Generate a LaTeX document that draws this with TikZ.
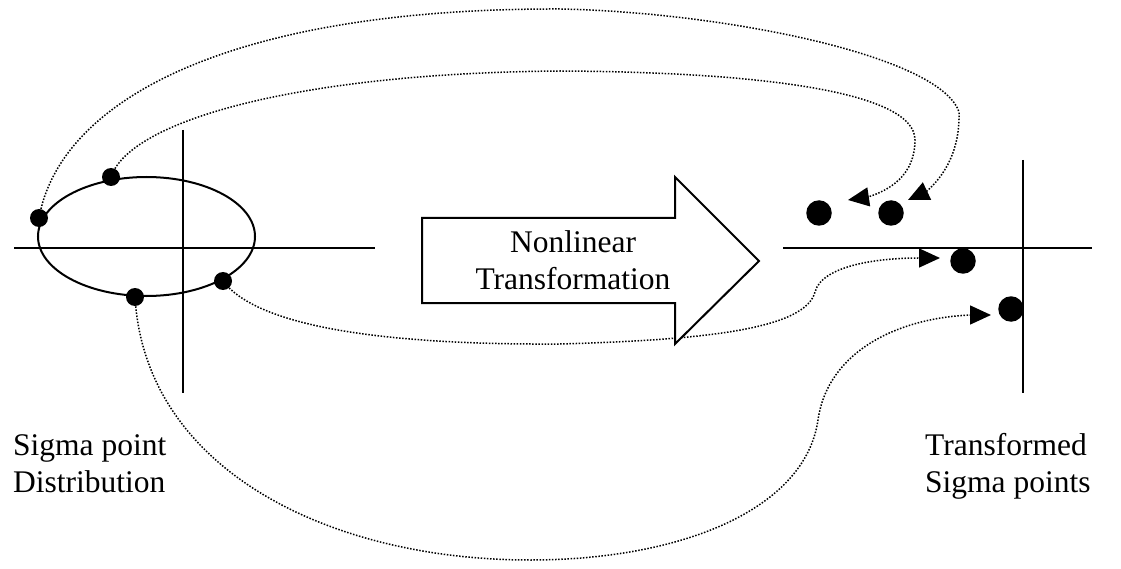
\documentclass[tikz,border=0pt]{standalone}
\usepackage{fontspec}
\setmainfont{Liberation Serif}
\usetikzlibrary{arrows.meta}
\tikzset{
  axis/.style={line width=2pt},
  ldot/.style={circle,fill=black,inner sep=0pt,minimum size=18pt},
  rdot/.style={circle,fill=black,inner sep=0pt,minimum size=25.5pt},
  conn/.style={line width=1.5pt,dash pattern=on 1.5pt off 1.6pt,
    -{Triangle[length=21pt,width=19pt]}},
  lbl/.style={font=\fontsize{31.5}{37}\selectfont,inner sep=0pt,align=left}
}
\begin{document}
\begin{tikzpicture}[x=1pt,y=-1pt]
\useasboundingbox (0,0) rectangle (1121,569);
% left axes and ellipse
\draw[axis] (14,248) -- (375,248);
\draw[axis] (183,130) -- (183,393);
\draw[axis] (146.5,236.5) ellipse [x radius=108.5, y radius=59.5];
% right axes
\draw[axis] (783,248) -- (1092,248);
\draw[axis] (1023,160) -- (1023,393);
% sigma points
\node[ldot] (d1) at (39,218) {};
\node[ldot] (d2) at (111,177) {};
\node[ldot] (d3) at (223,281) {};
\node[ldot] (d4) at (135,297) {};
\node[rdot] (r1) at (819,213) {};
\node[rdot] (r2) at (891,213) {};
\node[rdot] (r3) at (963,261) {};
\node[rdot] (r4) at (1011,309) {};
% arrow tips
\coordinate (t1) at (908,200);
\coordinate (t2) at (848,200);
\coordinate (t3) at (940,258);
\coordinate (t4) at (991,315);
% connectors
\draw[conn] (d1.center) .. controls (60,100) and (230,8) .. (560,9)
  .. controls (720,12) and (940,55) .. (959,112)
  .. controls (960,150) and (945,175) .. (927,191) -- (t1);
\draw[conn] (d2.center) .. controls (130,120) and (300,73) .. (560,71)
  .. controls (750,72) and (915,90) .. (915,140)
  .. controls (915,175) and (890,190) .. (868,197) -- (t2);
\draw[conn] (d3.center) .. controls (260,330) and (400,345) .. (560,344)
  .. controls (700,340) and (805,330) .. (815,292)
  .. controls (822,265) and (880,258) .. (918,258) -- (t3);
\draw[conn] (d4.center) .. controls (145,470) and (330,560) .. (530,560)
  .. controls (680,560) and (805,510) .. (818,420)
  .. controls (828,350) and (900,318) .. (970,315) -- (t4);
% big arrow
\draw[line width=2pt,line join=miter,fill=white]
  (422,218) -- (675,218) -- (675,177) -- (759,261) -- (675,344) -- (675,303) -- (422,303) -- cycle;
\node[lbl,align=center,anchor=base] (nt) at (573,290) {Nonlinear\\Transformation};
% labels
\node[lbl,anchor=base west] (ls) at (13,492) {Sigma point\\Distribution};
\node[lbl,anchor=base west] (rs) at (925,492) {Transformed\\Sigma points};
\end{tikzpicture}
\end{document}
